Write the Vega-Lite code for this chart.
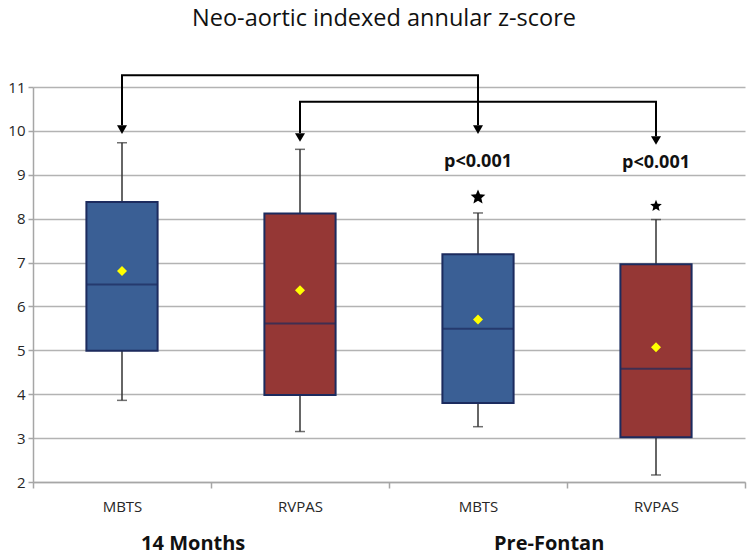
{
  "$schema": "https://vega.github.io/schema/vega-lite/v6.json",
  "width": 712,
  "height": 395,
  "autosize": {"type": "none"},
  "padding": {"left": 33, "top": 87, "right": 5, "bottom": 78},
  "title": {"text": "Neo-aortic indexed annular z-score", "font": "Open Sans", "fontSize": 23.5, "fontWeight": "normal", "color": "#111111", "anchor": "middle", "offset": 41, "dx": -5},
  "config": {
    "view": {"stroke": null},
    "font": "Open Sans",
    "axis": {"labelFont": "Open Sans", "labelColor": "#262626", "domainColor": "#A6A6A6", "domainWidth": 1.5, "tickColor": "#A6A6A6", "tickWidth": 1.5},
    "axisY": {"gridColor": "#B3B3B3", "gridWidth": 1.5, "tickSize": 5, "labelFontSize": 15, "labelPadding": 3},
    "axisX": {"grid": false, "tickSize": 6, "labelFontSize": 15, "labelPadding": 11, "labelAngle": 0}
  },
  "datasets": {
    "stats": [
      {"k": "1 MBTS", "s": "MBTS", "min": 3.86, "q1": 4.99, "median": 6.5, "q3": 8.38, "max": 9.73, "mean": 6.81},
      {"k": "2 RVPAS", "s": "RVPAS", "min": 3.15, "q1": 3.98, "median": 5.61, "q3": 8.12, "max": 9.58, "mean": 6.37},
      {"k": "3 MBTS", "s": "MBTS", "min": 3.26, "q1": 3.8, "median": 5.49, "q3": 7.19, "max": 8.13, "mean": 5.7},
      {"k": "4 RVPAS", "s": "RVPAS", "min": 2.16, "q1": 3.02, "median": 4.58, "q3": 6.96, "max": 7.98, "mean": 5.07}
    ],
    "brackets": [
      {"b": 1, "o": 1, "k": "1 MBTS", "y": 10.13},
      {"b": 1, "o": 2, "k": "1 MBTS", "y": 11.27},
      {"b": 1, "o": 3, "k": "3 MBTS", "y": 11.27},
      {"b": 1, "o": 4, "k": "3 MBTS", "y": 10.13},
      {"b": 2, "o": 1, "k": "2 RVPAS", "y": 9.95},
      {"b": 2, "o": 2, "k": "2 RVPAS", "y": 10.665},
      {"b": 2, "o": 3, "k": "4 RVPAS", "y": 10.665},
      {"b": 2, "o": 4, "k": "4 RVPAS", "y": 9.88}
    ],
    "arrows": [
      {"k": "1 MBTS", "y": 10.03},
      {"k": "3 MBTS", "y": 10.03},
      {"k": "2 RVPAS", "y": 9.85},
      {"k": "4 RVPAS", "y": 9.78}
    ],
    "pvals": [
      {"k": "3 MBTS", "y": 9.3, "t": "p<0.001"},
      {"k": "4 RVPAS", "y": 9.26, "t": "p<0.001"}
    ],
    "groups": [
      {"k": "1 MBTS", "y": 0.58, "t": "14 Months"},
      {"k": "3 MBTS", "y": 0.58, "t": "Pre-Fontan"}
    ]
  },
  "encoding": {
    "x": {
      "field": "k", "type": "nominal", "title": null,
      "scale": {"domain": ["1 MBTS", "2 RVPAS", "3 MBTS", "4 RVPAS"], "paddingInner": 0, "paddingOuter": 0},
      "axis": {"tickBand": "extent", "labelExpr": "datum.value ? substring(datum.value, 2) : ''"}
    }
  },
  "layer": [
    {
      "data": {"name": "stats"},
      "mark": {"type": "rule", "color": "#333333", "strokeWidth": 1.5},
      "encoding": {
        "y": {"field": "min", "type": "quantitative", "title": null, "scale": {"domain": [2, 11], "nice": false, "zero": false}, "axis": {"values": [2, 3, 4, 5, 6, 7, 8, 9, 10, 11]}},
        "y2": {"field": "max"}
      }
    },
    {
      "data": {"name": "stats"},
      "mark": {"type": "tick", "color": "#333333", "size": 10, "thickness": 1.5},
      "encoding": {"y": {"field": "min", "type": "quantitative", "title": null}}
    },
    {
      "data": {"name": "stats"},
      "mark": {"type": "tick", "color": "#333333", "size": 10, "thickness": 1.5},
      "encoding": {"y": {"field": "max", "type": "quantitative", "title": null}}
    },
    {
      "data": {"name": "stats"},
      "mark": {"type": "bar", "width": {"band": 0.4}, "stroke": "#1C2B5E", "strokeWidth": 2},
      "encoding": {
        "y": {"field": "q1", "type": "quantitative", "title": null},
        "y2": {"field": "q3"},
        "fill": {"field": "s", "type": "nominal", "scale": {"domain": ["MBTS", "RVPAS"], "range": ["#3A5F95", "#953735"]}, "legend": null}
      }
    },
    {
      "data": {"name": "stats"},
      "mark": {"type": "tick", "color": "#1C2B5E", "size": 71, "thickness": 2},
      "encoding": {"y": {"field": "median", "type": "quantitative", "title": null}}
    },
    {
      "data": {"name": "stats"},
      "mark": {"type": "point", "shape": "diamond", "filled": true, "color": "#FFFF00", "opacity": 1, "size": 100},
      "encoding": {"y": {"field": "mean", "type": "quantitative", "title": null}}
    },
    {
      "data": {"name": "brackets"},
      "mark": {"type": "line", "color": "#000000", "strokeWidth": 2},
      "encoding": {
        "y": {"field": "y", "type": "quantitative", "title": null},
        "detail": {"field": "b", "type": "nominal"},
        "order": {"field": "o", "type": "quantitative"}
      }
    },
    {
      "data": {"name": "arrows"},
      "mark": {"type": "point", "shape": "triangle-down", "filled": true, "color": "#000000", "opacity": 1, "size": 100},
      "encoding": {"y": {"field": "y", "type": "quantitative", "title": null}}
    },
    {
      "data": {"name": "pvals"},
      "mark": {"type": "text", "font": "Open Sans", "fontWeight": "bold", "fontSize": 18, "color": "#111111", "baseline": "middle"},
      "encoding": {"y": {"field": "y", "type": "quantitative", "title": null}, "text": {"field": "t"}}
    },
    {
      "data": {"values": [{"k": "3 MBTS", "y": 8.49}]},
      "mark": {"type": "point", "shape": "M0,-1L0.26,-0.36L0.95,-0.31L0.43,0.14L0.59,0.81L0,0.45L-0.59,0.81L-0.43,0.14L-0.95,-0.31L-0.26,-0.36Z", "filled": true, "color": "#000000", "opacity": 1, "size": 240},
      "encoding": {"y": {"field": "y", "type": "quantitative", "title": null}}
    },
    {
      "data": {"values": [{"k": "4 RVPAS", "y": 8.29}]},
      "mark": {"type": "point", "shape": "M0,-1L0.26,-0.36L0.95,-0.31L0.43,0.14L0.59,0.81L0,0.45L-0.59,0.81L-0.43,0.14L-0.95,-0.31L-0.26,-0.36Z", "filled": true, "color": "#000000", "opacity": 1, "size": 150},
      "encoding": {"y": {"field": "y", "type": "quantitative", "title": null}}
    },
    {
      "data": {"name": "groups"},
      "mark": {"type": "text", "font": "Open Sans", "fontWeight": "bold", "fontSize": 20, "color": "#111111", "baseline": "middle"},
      "encoding": {
        "x": {"field": "k", "type": "nominal", "title": null, "bandPosition": 0.9},
        "y": {"field": "y", "type": "quantitative", "title": null},
        "text": {"field": "t"}
      }
    }
  ]
}
